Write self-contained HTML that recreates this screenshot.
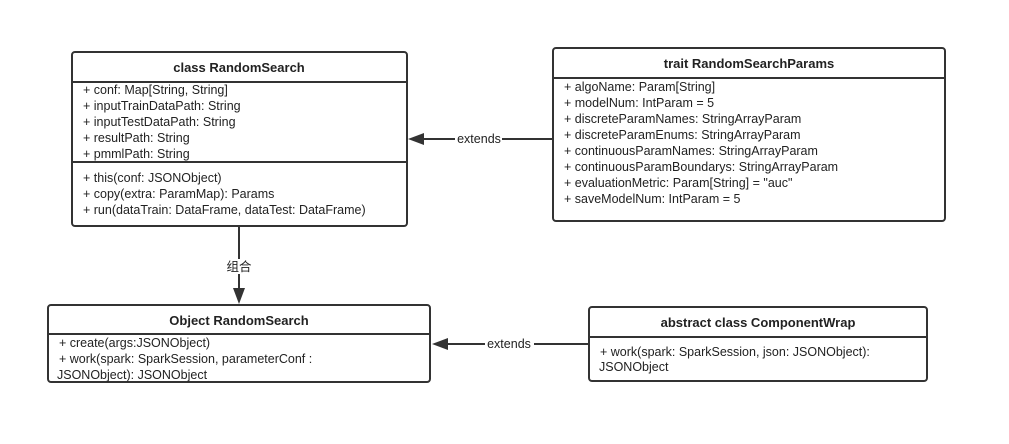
<!DOCTYPE html>
<html><head><meta charset="utf-8"><style>
html,body{margin:0;padding:0;background:#fff;width:1009px;height:444px;overflow:hidden}
svg text{font-family:"Liberation Sans","Noto Sans CJK SC",sans-serif;font-size:12.5px;fill:#222}
.b{font-weight:bold;font-size:13px}
</style></head><body>
<svg width="1009" height="444" viewBox="0 0 1009 444" xmlns="http://www.w3.org/2000/svg">
<g fill="#fff" stroke="#333" stroke-width="2">
<rect x="72" y="52" width="335" height="174" rx="3"/>
<rect x="553" y="48" width="392" height="173" rx="3"/>
<rect x="48" y="305" width="382" height="77" rx="3"/>
<rect x="589" y="307" width="338" height="74" rx="3"/>
</g>
<g stroke="#333" stroke-width="2">
<line x1="72" y1="82" x2="407" y2="82"/>
<line x1="72" y1="162" x2="407" y2="162"/>
<line x1="553" y1="78" x2="945" y2="78"/>
<line x1="48" y1="334" x2="430" y2="334"/>
<line x1="589" y1="337" x2="927" y2="337"/>
<line x1="553" y1="139" x2="502" y2="139"/>
<line x1="455" y1="139" x2="420" y2="139"/>
<line x1="589" y1="344" x2="534" y2="344"/>
<line x1="485" y1="344" x2="444" y2="344"/>
<line x1="239" y1="227" x2="239" y2="259"/>
<line x1="239" y1="274" x2="239" y2="292"/>
</g>
<g fill="#333">
<polygon points="408,139 424,133 424,145"/>
<polygon points="432,344 448,338 448,350"/>
<polygon points="239,304 233,288 245,288"/>
</g>
<text x="239" y="72" text-anchor="middle" class="b">class RandomSearch</text>
<text x="83" y="94">+ conf: Map[String, String]</text>
<text x="83" y="110">+ inputTrainDataPath: String</text>
<text x="83" y="126">+ inputTestDataPath: String</text>
<text x="83" y="142">+ resultPath: String</text>
<text x="83" y="158">+ pmmlPath: String</text>
<text x="83" y="182">+ this(conf: JSONObject)</text>
<text x="83" y="198">+ copy(extra: ParamMap): Params</text>
<text x="83" y="214">+ run(dataTrain: DataFrame, dataTest: DataFrame)</text>
<text x="749" y="68" text-anchor="middle" class="b">trait RandomSearchParams</text>
<text x="564" y="91">+ algoName: Param[String]</text>
<text x="564" y="107">+ modelNum: IntParam = 5</text>
<text x="564" y="123">+ discreteParamNames: StringArrayParam</text>
<text x="564" y="139">+ discreteParamEnums: StringArrayParam</text>
<text x="564" y="155">+ continuousParamNames: StringArrayParam</text>
<text x="564" y="171">+ continuousParamBoundarys: StringArrayParam</text>
<text x="564" y="187">+ evaluationMetric: Param[String] = "auc"</text>
<text x="564" y="203">+ saveModelNum: IntParam = 5</text>
<text x="239" y="325" text-anchor="middle" class="b">Object RandomSearch</text>
<text x="59" y="347">+ create(args:JSONObject)</text>
<text x="59" y="363">+ work(spark: SparkSession, parameterConf :</text>
<text x="57" y="379">JSONObject): JSONObject</text>
<text x="758" y="327" text-anchor="middle" class="b">abstract class ComponentWrap</text>
<text x="600" y="356">+ work(spark: SparkSession, json: JSONObject):</text>
<text x="599" y="371">JSONObject</text>
<text x="479" y="143" text-anchor="middle">extends</text>
<text x="509" y="348" text-anchor="middle">extends</text>
<text x="239" y="271" text-anchor="middle">组合</text>
</svg>
</body></html>
